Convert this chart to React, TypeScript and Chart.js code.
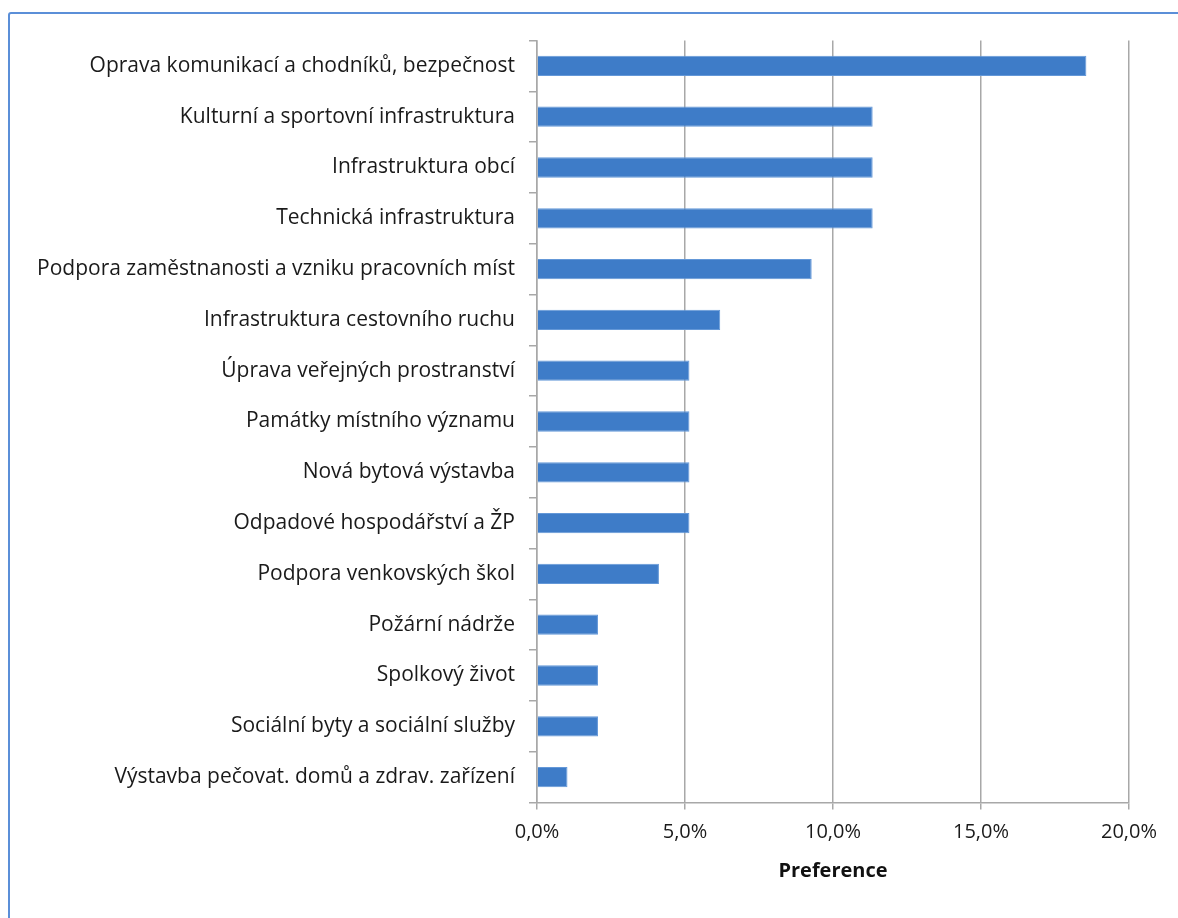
import React, { useEffect, useRef } from "react";
import { Chart, registerables } from "chart.js";

Chart.register(...registerables);

const categories: string[] = [
  "Oprava komunikací a chodníků, bezpečnost",
  "Kulturní a sportovní infrastruktura",
  "Infrastruktura obcí",
  "Technická infrastruktura",
  "Podpora zaměstnanosti a vzniku pracovních míst",
  "Infrastruktura cestovního ruchu",
  "Úprava veřejných prostranství",
  "Památky místního významu",
  "Nová bytová výstavba",
  "Odpadové hospodářství a ŽP",
  "Podpora venkovských škol",
  "Požární nádrže",
  "Spolkový život",
  "Sociální byty a sociální služby",
  "Výstavba pečovat. domů a zdrav. zařízení",
];

const preference: number[] = [
  18.56, 11.34, 11.34, 11.34, 9.28, 6.19, 5.15, 5.15, 5.15, 5.15, 4.12, 2.06, 2.06, 2.06, 1.03,
];

const xTicks: number[] = [0, 5, 10, 15, 20];
const axisTitle = "Preference";

const FONT = "'Open Sans', Lato, sans-serif";

export default function App() {
  const ref = useRef<HTMLCanvasElement | null>(null);

  useEffect(() => {
    if (!ref.current) return;
    const chart = new Chart(ref.current, {
      type: "bar",
      data: {
        labels: categories,
        datasets: [
          {
            label: axisTitle,
            data: preference,
            backgroundColor: "#3E7CC8",
            borderColor: "#6498D8",
            borderWidth: 1,
            barPercentage: 0.8,
            categoryPercentage: 0.5,
          },
        ],
      },
      options: {
        indexAxis: "y",
        animation: false,
        responsive: false,
        maintainAspectRatio: false,
        layout: { padding: { top: 40.5, right: 49, bottom: 35, left: 0 } },
        plugins: {
          legend: { display: false },
          tooltip: { enabled: false },
        },
        scales: {
          x: {
            min: 0,
            max: 20,
            afterBuildTicks: (scale: any) => {
              scale.ticks = xTicks.map((v) => ({ value: v }));
            },
            afterFit: (scale: any) => {
              scale.height = 80.5;
            },
            grid: {
              color: "#A8A8A8",
              lineWidth: 1.5,
              drawTicks: true,
              tickLength: 7,
            },
            border: { color: "#A8A8A8", width: 1.5 },
            ticks: {
              padding: 11,
              color: "#1a1a1a",
              font: { family: FONT, size: 20 },
              callback: (v: any) => Number(v).toFixed(1).replace(".", ",") + "%",
            },
            title: {
              display: true,
              text: axisTitle,
              color: "#111",
              font: { family: FONT, size: 20, weight: "bold" },
              padding: { top: 0, bottom: 0 },
            },
          },
          y: {
            afterFit: (scale: any) => {
              scale.width = 537;
            },
            grid: {
              offset: true,
              drawOnChartArea: false,
              drawTicks: true,
              tickLength: 8,
              color: "#A8A8A8",
              lineWidth: 1.5,
            },
            border: { color: "#A8A8A8", width: 1.5 },
            ticks: {
              padding: 14,
              color: "#1a1a1a",
              autoSkip: false,
              font: { family: FONT, size: 21 },
            },
          },
        },
      },
    });
    return () => chart.destroy();
  }, []);

  return (
    <div
      style={{
        position: "fixed",
        left: 0,
        top: 0,
        width: 1178,
        height: 918,
        overflow: "hidden",
        background: "#fff",
      }}
    >
      <div
        style={{
          position: "absolute",
          left: 8,
          top: 12,
          width: 1200,
          height: 950,
          border: "2px solid #5B8FD8",
          borderRadius: 3,
        }}
      />
      <canvas
        ref={ref}
        width={1178}
        height={918}
        style={{ position: "absolute", left: 0, top: 0, width: 1178, height: 918 }}
      />
    </div>
  );
}
